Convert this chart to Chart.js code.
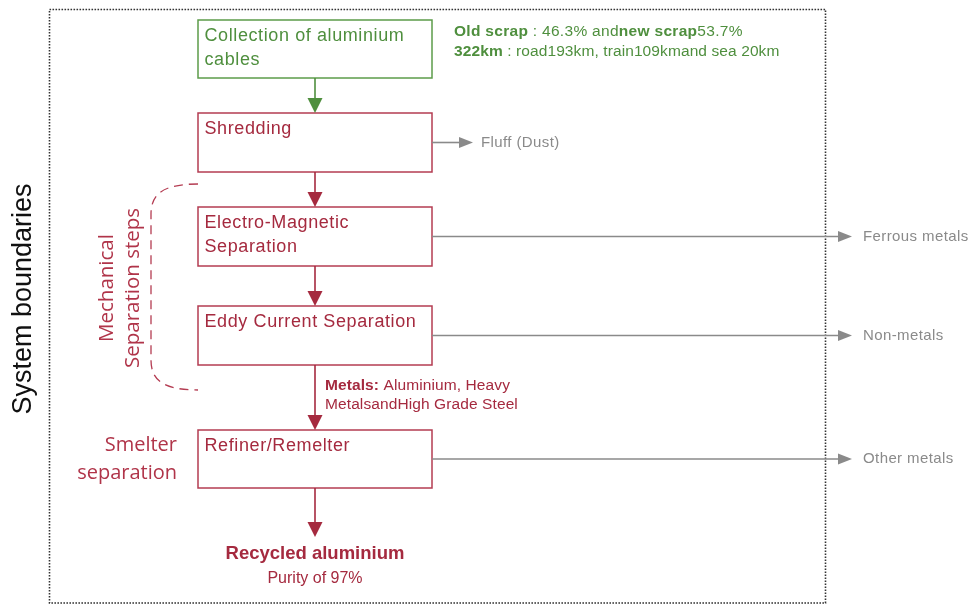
<!DOCTYPE html>
<html><head><meta charset="utf-8">
<script src="https://cdn.jsdelivr.net/npm/chart.js@4/dist/chart.umd.min.js"></script>
<style>html,body{margin:0;padding:0;background:#fff;overflow:hidden}</style>
</head><body>
<canvas id="c" width="968" height="605"></canvas>
<script>
// ---- data ----
const stages = ['Collection of aluminium|cables', 'Shredding', 'Electro-Magnetic|Separation', 'Eddy Current Separation', 'Refiner/Remelter'];
const sideOutputs = [null, 'Fluff (Dust)', 'Ferrous metals', 'Non-metals', 'Other metals'];
const scrapLabels = ['Old scrap', 'new scrap'];
const scrapShares = [46.3, 53.7];
const transportModes = ['road', 'train', 'sea'];
const transportKm = [193, 109, 20];
const metalsLines = [['Metals:', ' Aluminium, Heavy'], ['', 'MetalsandHigh Grade Steel']];
const productName = 'Recycled aluminium';
const productPurity = 97;
const groupLabels = [['Mechanical', 'Separation steps'], ['Smelter', 'separation']];
const boundaryLabel = 'System boundaries';

// ---- layout (canvas units of the hidden linear scales) ----
const L = {
  colX: 315, rowY: [49, 142.5, 236.5, 335.5, 459], boxW: 234, boxH: [58, 59, 59, 59, 58],
  border: [49.5, 9.5, 825.5, 603],
  fluffEnd: 473, outEnd: 852, outText: 863,
  productY: 554, purityY: 579, arrowEndY: 537,
  annoX: 454, annoY: [32, 52], metalsX: 325, metalsY: [386, 405],
  bracket: [198, 184, 151, 390], mech: [[107, 288], [133, 288]], smelt: [177, 445, 473],
  sys: [24, 299]
};
const GREEN = '#4f8f3e', GREEN_BOX = '#5c9c4a', RED = '#a52a3f', RED_BOX = '#b43c52', GRAY = '#8a8a8a';
const SANS = '"Liberation Sans", Arial, sans-serif';
const OPEN = '"Open Sans", "Noto Sans", sans-serif';

function runs(ctx, x, y, parts, size, color, sp) {
  let cx = x;
  ctx.letterSpacing = (sp || 0) + 'px';
  for (const [t, bold] of parts) {
    ctx.font = (bold ? 'bold ' : '') + size + 'px ' + SANS;
    ctx.fillStyle = color;
    ctx.fillText(t, cx, y);
    cx += ctx.measureText(t).width;
  }
  ctx.letterSpacing = '0px';
}
function arrowDown(ctx, x, y0, y1, color) {
  ctx.strokeStyle = color; ctx.fillStyle = color; ctx.lineWidth = 1.6;
  ctx.beginPath(); ctx.moveTo(x, y0); ctx.lineTo(x, y1 - 14); ctx.stroke();
  ctx.beginPath(); ctx.moveTo(x - 7.5, y1 - 15); ctx.lineTo(x + 7.5, y1 - 15); ctx.lineTo(x, y1); ctx.closePath(); ctx.fill();
}
function arrowRight(ctx, x0, x1, y, color) {
  ctx.strokeStyle = color; ctx.fillStyle = color; ctx.lineWidth = 1.6;
  ctx.beginPath(); ctx.moveTo(x0, y); ctx.lineTo(x1 - 12, y); ctx.stroke();
  ctx.beginPath(); ctx.moveTo(x1 - 14, y - 5.5); ctx.lineTo(x1, y); ctx.lineTo(x1 - 14, y + 5.5); ctx.closePath(); ctx.fill();
}

const flowPlugin = {
  id: 'flow',
  afterDatasetsDraw(chart) {
    const ctx = chart.ctx, sx = chart.scales.x, sy = chart.scales.y;
    const X = v => sx.getPixelForValue(v), Y = v => sy.getPixelForValue(v);
    const pts = chart.getDatasetMeta(0).data;
    ctx.save();
    ctx.textBaseline = 'middle';
    // system boundary
    ctx.strokeStyle = '#333'; ctx.lineWidth = 1.6; ctx.setLineDash([1.6, 1.4]);
    ctx.strokeRect(X(L.border[0]), Y(L.border[1]), X(L.border[2]) - X(L.border[0]), Y(L.border[3]) - Y(L.border[1]));
    ctx.setLineDash([]);
    // boxes
    const boxes = pts.map((p, i) => {
      const w = X(L.colX + L.boxW / 2) - X(L.colX - L.boxW / 2);
      const h = Y(L.rowY[i] + L.boxH[i] / 2) - Y(L.rowY[i] - L.boxH[i] / 2);
      return {l: p.x - w / 2, t: p.y - h / 2, r: p.x + w / 2, b: p.y + h / 2, cx: p.x, cy: p.y};
    });
    boxes.forEach((b, i) => {
      const green = i === 0;
      ctx.strokeStyle = green ? GREEN_BOX : RED_BOX; ctx.lineWidth = 1.5;
      ctx.strokeRect(b.l, b.t, b.r - b.l, b.b - b.t);
      ctx.fillStyle = green ? GREEN : RED;
      ctx.font = '18px ' + SANS; ctx.letterSpacing = '0.6px';
      stages[i].split('|').forEach((ln, k) => ctx.fillText(ln, b.l + 6.5, b.t + 16.5 + k * 23.5));
      ctx.letterSpacing = '0px';
    });
    // vertical arrows
    for (let i = 0; i < boxes.length - 1; i++) arrowDown(ctx, boxes[i].cx, boxes[i].b, boxes[i + 1].t, i === 0 ? GREEN : RED);
    arrowDown(ctx, boxes[4].cx, boxes[4].b, Y(L.arrowEndY), RED);
    // side outputs
    sideOutputs.forEach((t, i) => {
      if (!t) return;
      const b = boxes[i];
      const end = i === 1 ? X(L.fluffEnd) : X(L.outEnd);
      arrowRight(ctx, b.r, end, b.cy, GRAY);
      ctx.fillStyle = GRAY; ctx.font = '15px ' + SANS; ctx.letterSpacing = '0.4px';
      ctx.fillText(t, end + (i === 1 ? 8 : 11), b.cy);
      ctx.letterSpacing = '0px';
    });
    // annotation top-right
    runs(ctx, X(L.annoX), Y(L.annoY[0]), [[scrapLabels[0], true], [' : ' + scrapShares[0] + '% and', false], [scrapLabels[1], true], [scrapShares[1] + '%', false]], 15.5, GREEN, 0.3);
    const total = transportKm.reduce((a, b) => a + b, 0);
    runs(ctx, X(L.annoX), Y(L.annoY[1]), [[total + 'km', true], [' : ' + transportModes[0] + transportKm[0] + 'km, ' + transportModes[1] + transportKm[1] + 'km' + 'and ' + transportModes[2] + ' ' + transportKm[2] + 'km', false]], 15.5, GREEN, 0.1);
    // metals
    metalsLines.forEach((ln, k) => runs(ctx, X(L.metalsX), Y(L.metalsY[k]), [[ln[0], true], [ln[1], false]], 15.5, RED, 0.1));
    // product
    ctx.textAlign = 'center'; ctx.fillStyle = RED;
    ctx.font = 'bold 18.5px ' + SANS; ctx.fillText(productName, boxes[4].cx, Y(L.productY));
    ctx.font = '16px ' + SANS; ctx.fillText('Purity of ' + productPurity + '%', boxes[4].cx, Y(L.purityY));
    // bracket
    const [bx, bt, bl, bb] = L.bracket;
    ctx.strokeStyle = RED_BOX; ctx.lineWidth = 1.3; ctx.setLineDash([9, 6]);
    ctx.beginPath();
    ctx.moveTo(X(bx), Y(bt));
    ctx.bezierCurveTo(X(bl + 12), Y(bt), X(bl), Y(bt + 10), X(bl), Y(bt + 30));
    ctx.lineTo(X(bl), Y(bb - 30));
    ctx.bezierCurveTo(X(bl), Y(bb - 10), X(bl + 12), Y(bb), X(bx), Y(bb));
    ctx.stroke(); ctx.setLineDash([]);
    // group labels
    ctx.fillStyle = '#b03449'; ctx.font = '20.5px ' + OPEN;
    groupLabels[0].forEach((t, k) => {
      ctx.save(); ctx.translate(X(L.mech[k][0]), Y(L.mech[k][1])); ctx.rotate(-Math.PI / 2);
      ctx.fillText(t, 0, 0); ctx.restore();
    });
    ctx.font = '20px ' + OPEN;
    ctx.textAlign = 'right';
    ctx.fillText(groupLabels[1][0], X(L.smelt[0]), Y(L.smelt[1]));
    ctx.fillText(groupLabels[1][1], X(L.smelt[0]), Y(L.smelt[2]));
    // boundary label
    ctx.textAlign = 'center'; ctx.fillStyle = '#111'; ctx.font = '27px ' + SANS;
    ctx.save(); ctx.translate(X(L.sys[0]), Y(L.sys[1])); ctx.rotate(-Math.PI / 2);
    ctx.fillText(boundaryLabel, 0, 0); ctx.restore();
    ctx.restore();
  }
};

new Chart(document.getElementById('c'), {
  type: 'scatter',
  data: { datasets: [{ label: 'stages', data: stages.map((s, i) => ({x: L.colX, y: L.rowY[i]})), pointRadius: 0, showLine: false }] },
  options: {
    responsive: false, animation: false, events: [],
    layout: { padding: 0 },
    plugins: { legend: { display: false }, tooltip: { enabled: false } },
    scales: {
      x: { type: 'linear', min: 0, max: 968, display: false },
      y: { type: 'linear', min: 0, max: 605, reverse: true, display: false }
    }
  },
  plugins: [flowPlugin]
});
</script>
</body></html>
